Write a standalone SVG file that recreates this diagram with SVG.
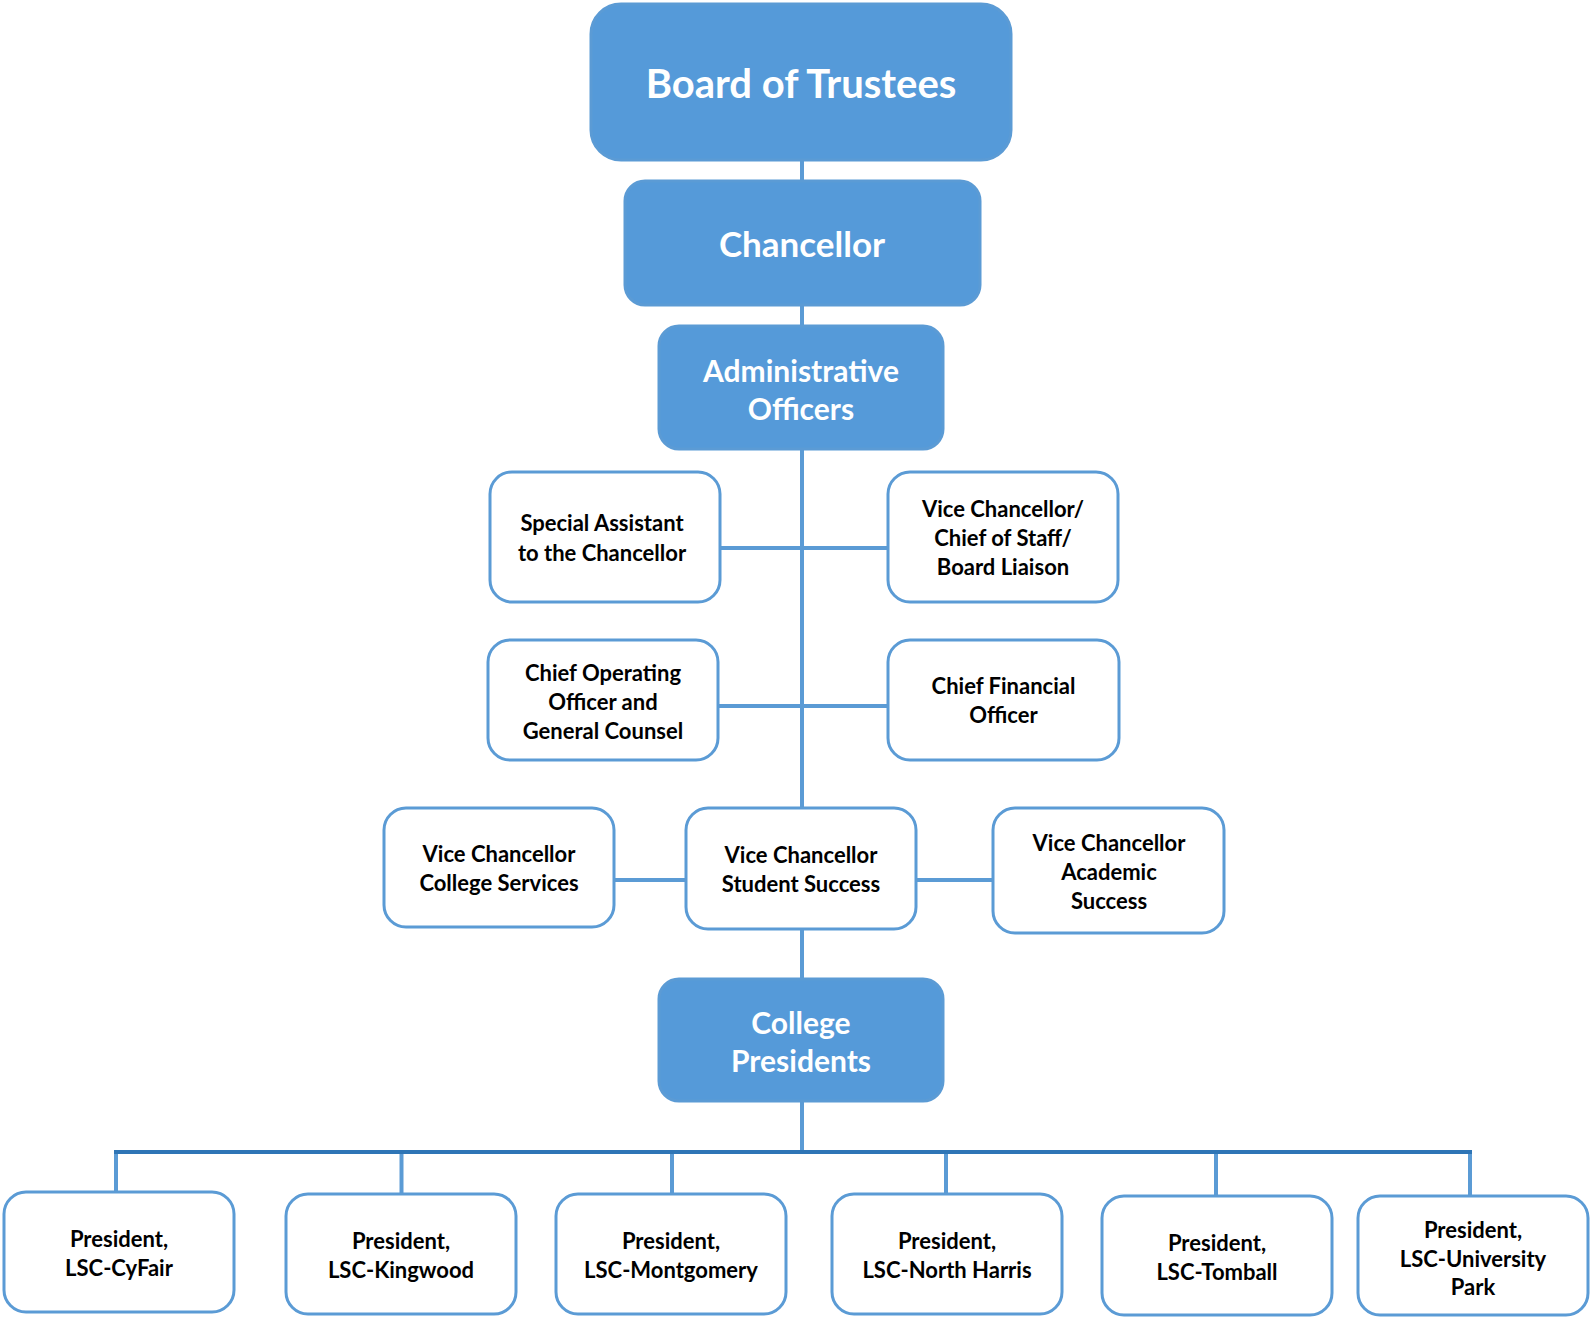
<svg xmlns="http://www.w3.org/2000/svg" width="1591" height="1317" viewBox="0 0 1591 1317">
<style>
.big{fill:#559ad9;stroke:#5b9bd5;stroke-width:3}
.box{fill:#ffffff;stroke:#5b9bd5;stroke-width:3}
.tw{fill:#ffffff;font-family:Lato,"Liberation Sans",sans-serif;font-weight:bold;text-anchor:middle}
.tb{fill:#000000;font-family:Lato,"Liberation Sans",sans-serif;font-weight:bold;font-size:22px;text-anchor:middle}
.ln{stroke:#5b9bd5;stroke-width:4;fill:none}
.bus{stroke:#2e75b6;stroke-width:4;fill:none}
</style>
<rect width="1591" height="1317" fill="#ffffff"/>
<g id="connectors">
<line class="ln" x1="802" y1="160" x2="802" y2="1152"/>
<line class="ln" x1="720" y1="548" x2="888" y2="548"/>
<line class="ln" x1="718" y1="706" x2="888" y2="706"/>
<line class="ln" x1="614" y1="880" x2="993" y2="880"/>
<line class="ln" x1="116" y1="1152" x2="116" y2="1192"/>
<line class="ln" x1="401.5" y1="1152" x2="401.5" y2="1194"/>
<line class="ln" x1="672" y1="1152" x2="672" y2="1194"/>
<line class="ln" x1="946" y1="1152" x2="946" y2="1194"/>
<line class="ln" x1="1216" y1="1152" x2="1216" y2="1196"/>
<line class="ln" x1="1470" y1="1152" x2="1470" y2="1196"/>
<line class="bus" x1="114" y1="1152" x2="1472" y2="1152"/>
</g>
<g id="board">
<rect class="big" x="591" y="4" width="420" height="156" rx="30"/>
<text class="tw" x="801" y="98" font-size="40">Board of Trustees</text>
</g>
<g id="chancellor">
<rect class="big" x="625" y="181" width="355" height="124" rx="20"/>
<text class="tw" x="802" y="257" font-size="35">Chancellor</text>
</g>
<g id="admin">
<rect class="big" x="659" y="326" width="284" height="123" rx="20"/>
<text class="tw" x="801" y="382" font-size="30">Administrative</text>
<text class="tw" x="801" y="420" font-size="30">Officers</text>
</g>
<g id="special-assistant">
<rect class="box" x="490" y="472" width="230" height="130" rx="22"/>
<text class="tb" x="602" y="531">Special Assistant</text>
<text class="tb" x="602" y="561">to the Chancellor</text>
</g>
<g id="vc-chief-of-staff">
<rect class="box" x="888" y="472" width="230" height="130" rx="22"/>
<text class="tb" x="1003" y="517">Vice Chancellor/</text>
<text class="tb" x="1003" y="546">Chief of Staff/</text>
<text class="tb" x="1003" y="575">Board Liaison</text>
</g>
<g id="coo">
<rect class="box" x="488" y="640" width="230" height="120" rx="22"/>
<text class="tb" x="603" y="681">Chief Operating</text>
<text class="tb" x="603" y="710">Officer and</text>
<text class="tb" x="603" y="739">General Counsel</text>
</g>
<g id="cfo">
<rect class="box" x="888" y="640" width="231" height="120" rx="22"/>
<text class="tb" x="1003.5" y="694">Chief Financial</text>
<text class="tb" x="1003.5" y="723">Officer</text>
</g>
<g id="vc-college-services">
<rect class="box" x="384" y="808" width="230" height="119" rx="22"/>
<text class="tb" x="499" y="862">Vice Chancellor</text>
<text class="tb" x="499" y="891">College Services</text>
</g>
<g id="vc-student-success">
<rect class="box" x="686" y="808" width="230" height="121" rx="22"/>
<text class="tb" x="801" y="863">Vice Chancellor</text>
<text class="tb" x="801" y="892">Student Success</text>
</g>
<g id="vc-academic-success">
<rect class="box" x="993" y="808" width="231" height="125" rx="22"/>
<text class="tb" x="1109" y="851">Vice Chancellor</text>
<text class="tb" x="1109" y="880">Academic</text>
<text class="tb" x="1109" y="909">Success</text>
</g>
<g id="college-presidents">
<rect class="big" x="659" y="979" width="284" height="122" rx="20"/>
<text class="tw" x="801" y="1034" font-size="30">College</text>
<text class="tw" x="801" y="1072" font-size="30">Presidents</text>
</g>
<g id="cyfair">
<rect class="box" x="4" y="1192" width="230" height="120" rx="22"/>
<text class="tb" x="119" y="1247">President,</text>
<text class="tb" x="119" y="1276">LSC-CyFair</text>
</g>
<g id="kingwood">
<rect class="box" x="286" y="1194" width="230" height="120" rx="22"/>
<text class="tb" x="401" y="1249">President,</text>
<text class="tb" x="401" y="1278">LSC-Kingwood</text>
</g>
<g id="montgomery">
<rect class="box" x="556" y="1194" width="230" height="120" rx="22"/>
<text class="tb" x="671" y="1249">President,</text>
<text class="tb" x="671" y="1278">LSC-Montgomery</text>
</g>
<g id="north-harris">
<rect class="box" x="832" y="1194" width="230" height="120" rx="22"/>
<text class="tb" x="947" y="1249">President,</text>
<text class="tb" x="947" y="1278">LSC-North Harris</text>
</g>
<g id="tomball">
<rect class="box" x="1102" y="1196" width="230" height="119" rx="22"/>
<text class="tb" x="1217" y="1251">President,</text>
<text class="tb" x="1217" y="1280">LSC-Tomball</text>
</g>
<g id="university-park">
<rect class="box" x="1358" y="1196" width="230" height="119" rx="22"/>
<text class="tb" x="1473" y="1238">President,</text>
<text class="tb" x="1473" y="1267">LSC-University</text>
<text class="tb" x="1473" y="1295">Park</text>
</g>
</svg>
